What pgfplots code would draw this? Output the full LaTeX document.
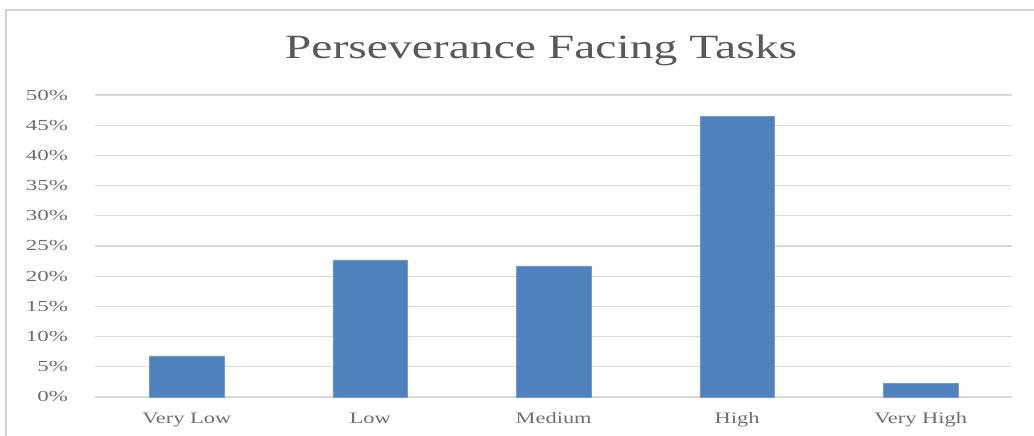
\documentclass[border=0pt]{standalone}
\usepackage{pgfplots}
\pgfplotsset{compat=1.18}
\usepackage{fontspec}
\setmainfont{Liberation Serif}
\definecolor{barblue}{HTML}{4F81BD}
\definecolor{gridgray}{HTML}{D9D9D9}
\definecolor{txtgray}{HTML}{595959}
\definecolor{ticklabelgray}{HTML}{6E6E6E}
\definecolor{framegray}{HTML}{D0D0D0}

\begin{document}
\begin{tikzpicture}[x=1pt,y=1pt]
\useasboundingbox (-71.25,-28.5) rectangle (704.25,297.75);
\draw[framegray, line width=0.8pt] (-66.75,-40) rectangle (720,290.25);
\begin{axis}[
    at={(0,0)}, anchor=south west,
    scale only axis,
    width=688pt, height=226.5pt,
    ymin=0, ymax=50,
    xmin=-0.5, xmax=4.5,
    ytick={0,5,...,50},
    yticklabel={\pgfmathprintnumber{\tick}\%},
    xtick=data,
    xticklabels={Very Low, Low, Medium, High, Very High},
    ybar, bar width=56pt,
    axis line style={draw=none},
    tick style={draw=none},
    ymajorgrids,
    grid style={gridgray, line width=0.9pt},
    yticklabel style={font=\fontsize{11.5}{12}\selectfont, text=ticklabelgray, xscale=1.5, anchor=east, xshift=-10pt},
    xticklabel style={font=\fontsize{12}{13}\selectfont, text=ticklabelgray, xscale=1.4, yshift=-4pt},
    /pgf/number format/assume math mode=true,
]
\addplot[fill=barblue, draw=barblue!80!white] coordinates {(0,6.8) (1,22.7) (2,21.7) (3,46.4) (4,2.3)};
\end{axis}
\node[font=\fontsize{25.5}{28}\selectfont, text=txtgray, xscale=1.4] at (334.5,260.25) {Perseverance Facing Tasks};
\end{tikzpicture}
\end{document}
